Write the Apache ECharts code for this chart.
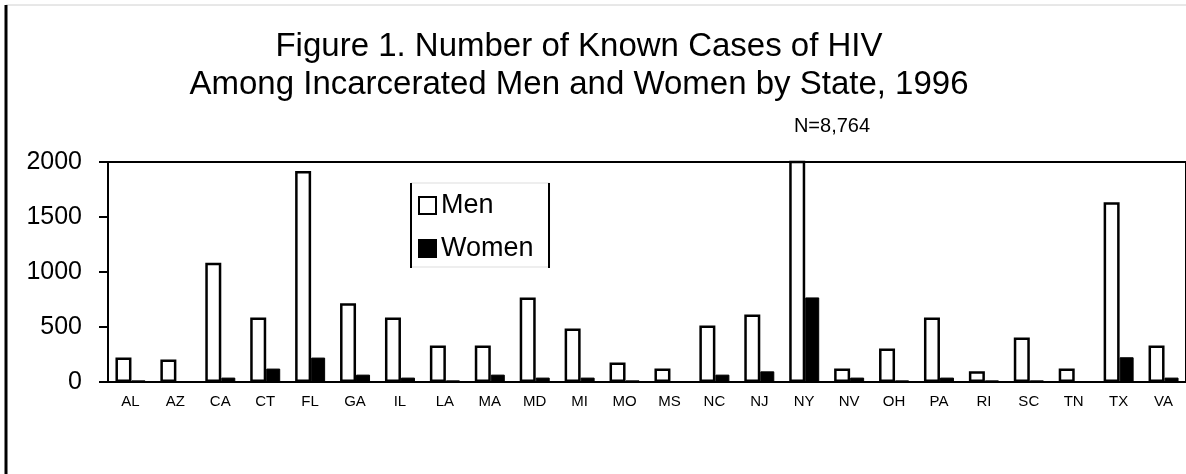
<!DOCTYPE html>
<html>
<head>
<meta charset="utf-8">
<script src="https://cdn.jsdelivr.net/npm/echarts@6/dist/echarts.min.js"></script>
<style>
  html, body { margin: 0; padding: 0; background: #fff; }
  #chart { width: 1186px; height: 474px; }
</style>
</head>
<body>
<div id="chart"></div>
<script>
// states along the x axis
const states = ['AL', 'AZ', 'CA', 'CT', 'FL', 'GA', 'IL', 'LA', 'MA', 'MD', 'MI', 'MO',
                'MS', 'NC', 'NJ', 'NY', 'NV', 'OH', 'PA', 'RI', 'SC', 'TN', 'TX', 'VA'];
// known HIV cases (NY runs off the scale)
const men = [222, 204, 1085, 587, 1918, 715, 587, 332, 332, 769, 487, 177,
             122, 514, 614, 8764, 122, 304, 587, 97, 405, 122, 1635, 332];
const women = [15, 0, 40, 122, 222, 67, 40, 15, 67, 40, 40, 15,
               0, 67, 97, 769, 40, 15, 40, 15, 15, 0, 225, 40];
const yTicks = [0, 500, 1000, 1500, 2000];
const nyNote = 'N=8,764';

const FONT = '"Liberation Sans", Arial, sans-serif';
const chart = echarts.init(document.getElementById('chart'));

const option = {
    animation: false,
    backgroundColor: '#fff',
    textStyle: { fontFamily: FONT, color: '#000' },
    title: [
        {
            text: 'Figure 1. Number of Known Cases of HIV\nAmong Incarcerated Men and Women by State, 1996',
            left: 579,
            top: 28,
            padding: 0,
            textAlign: 'center',
            textStyle: { fontFamily: FONT, fontSize: 33, fontWeight: 'normal', lineHeight: 38, color: '#000' }
        },
        {
            text: nyNote,
            left: 832,
            top: 116,
            padding: 0,
            textAlign: 'center',
            textStyle: { fontFamily: FONT, fontSize: 20, fontWeight: 'normal', color: '#000' }
        }
    ],
    legend: {
        data: ['Men', 'Women'],
        orient: 'vertical',
        left: 411,
        top: 183,
        padding: [9, 16, 5, 7],
        itemGap: 16,
        itemWidth: 17,
        itemHeight: 17,
        icon: 'rect',
        borderColor: '#ddd',
        borderWidth: 1,
        textStyle: { fontFamily: FONT, fontSize: 27, color: '#000' }
    },
    grid: {
        left: 108,
        right: 0,
        top: 162,
        bottom: 92,
        show: true,
        borderColor: '#000',
        borderWidth: 2
    },
    xAxis: {
        type: 'category',
        data: states,
        axisLine: { lineStyle: { color: '#000', width: 2 } },
        axisTick: { length: 4, lineStyle: { color: '#000', width: 2 } },
        axisLabel: { fontFamily: FONT, fontSize: 15, color: '#000', margin: 12, interval: 0 }
    },
    yAxis: {
        type: 'value',
        min: yTicks[0],
        max: yTicks[yTicks.length - 1],
        interval: 500,
        axisLine: { show: true, lineStyle: { color: '#000', width: 2 } },
        axisTick: { show: true, length: 9, lineStyle: { color: '#000', width: 2 } },
        axisLabel: {
            fontFamily: FONT, fontSize: 25, color: '#000', margin: 26,
            formatter: v => String(v)
        },
        splitLine: { show: false }
    },
    series: [
        {
            name: 'Men',
            type: 'bar',
            data: men,
            barWidth: 16,
            barGap: '0%',
            clip: true,
            itemStyle: { color: '#fff', borderColor: '#000', borderWidth: 2.5 }
        },
        {
            name: 'Women',
            type: 'bar',
            data: women,
            barWidth: 14,
            itemStyle: { color: '#000', borderColor: '#000', borderWidth: 1 }
        }
    ],
    graphic: [
        // outer frame of the figure
        { type: 'line', shape: { x1: 6, y1: 5, x2: 1186, y2: 5 }, style: { stroke: '#d0d0d0', lineWidth: 1 } },
        { type: 'line', shape: { x1: 6, y1: 5, x2: 6, y2: 474 }, style: { stroke: '#000', lineWidth: 3 } },
        // dark sides of the legend box
        { type: 'line', shape: { x1: 411, y1: 183, x2: 411, y2: 268 }, style: { stroke: '#000', lineWidth: 2 }, z: 10 },
        { type: 'line', shape: { x1: 549, y1: 183, x2: 549, y2: 268 }, style: { stroke: '#000', lineWidth: 2 }, z: 10 }
    ]
};

chart.setOption(option);
</script>
</body>
</html>
